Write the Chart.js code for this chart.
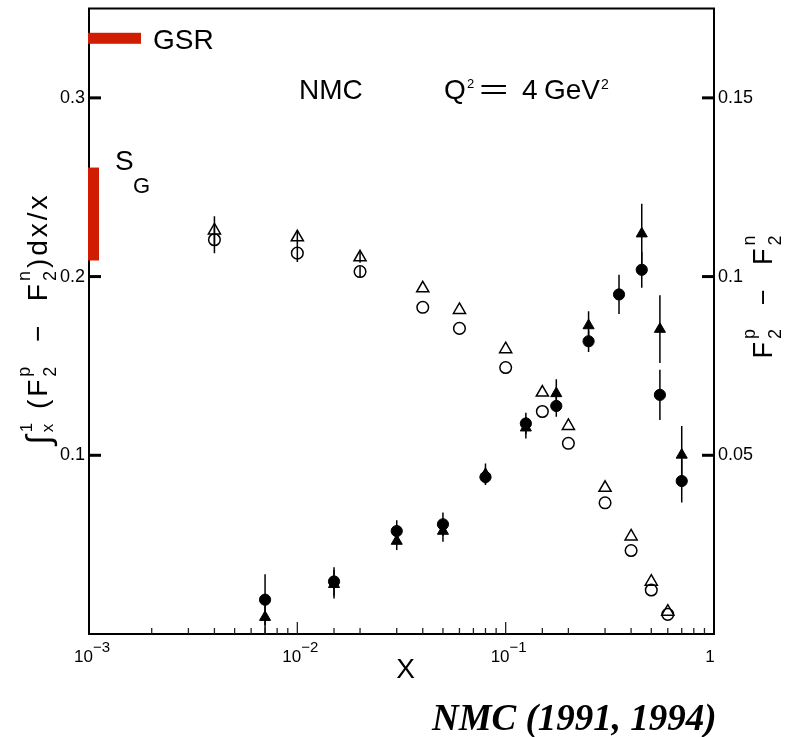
<!DOCTYPE html>
<html><head><meta charset="utf-8">
<script src="https://cdn.jsdelivr.net/npm/chart.js@4.4.0/dist/chart.umd.min.js"></script>
<style>html,body{margin:0;padding:0;background:#fff;}canvas{display:block;}</style>
</head><body>
<canvas id="c" width="791" height="737"></canvas>
<script>
// ---------- data ----------
const xOpen = [0.004, 0.01, 0.02, 0.04, 0.06, 0.1, 0.15, 0.2, 0.3, 0.4, 0.5, 0.6];
const intCircle = [0.2206, 0.2131, 0.2028, 0.1828, 0.1710, 0.1491, 0.1245, 0.1067, 0.0734, 0.0467, 0.0246, 0.0110];
const intCircleErr = [0.0075, 0.005, 0.003, 0, 0, 0, 0, 0, 0, 0, 0, 0];
const intTriangle = [0.2258, 0.2220, 0.2108, 0.1934, 0.1813, 0.1594, 0.1351, 0.1164, 0.0818, 0.0546, 0.0293, 0.0125];
const intTriangleErr = [0.008, 0.004, 0.003, 0, 0, 0, 0, 0, 0, 0, 0, 0];

const xFilled = [0.007, 0.015, 0.03, 0.05, 0.08, 0.125, 0.175, 0.25, 0.35, 0.45, 0.55, 0.7];
const diffCircle = [0.0096, 0.0147, 0.0288, 0.0307, 0.0439, 0.0589, 0.0638, 0.0819, 0.0950, 0.1019, 0.0669, 0.0428];
const diffCircleErr = [0.0071, 0.0040, 0.0030, 0.0033, 0.0020, 0.0030, 0.0030, 0.0030, 0.0055, 0.0050, 0.0070, 0.0060];
const diffTriangle = [0.0047, 0.0139, 0.0260, 0.0288, 0.0447, 0.0577, 0.0673, 0.0863, null, 0.1120, 0.0853, 0.0501];
const diffTriangleErr = [0.005, 0.004, 0.0025, 0.003, 0.003, 0.003, 0.004, 0.004, null, 0.0084, 0.0095, 0.0081];

const gsrValue = 1 / 3;          // Gottfried sum rule
const sgValue = 0.235;           // measured S_G
const sgErr = 0.026;

const leftTicks = [0.1, 0.2, 0.3];
const leftTickLabels = ['0.1', '0.2', '0.3'];
const rightTicks = [0.05, 0.1, 0.15];
const rightTickLabels = ['0.05', '0.1', '0.15'];
const xMajorTicks = [0.001, 0.01, 0.1, 1];
const xTickBase = ['10', '10', '10', '1'];
const xTickExp = ['\u22123', '\u22122', '\u22121', ''];

// ---------- helpers ----------
const FAM = '"Liberation Sans", Arial, sans-serif';
const zip = (xs, ys) => xs.map((x, i) => ({ x, y: ys[i] })).filter(p => p.y !== null);

function richMeasure(ctx, parts, gap) {
  let w = 0;
  for (const p of parts) {
    ctx.font = p.f + 'px ' + FAM;
    if (p.t !== undefined) {
      for (const ch of p.t) w += ctx.measureText(ch).width + gap;
    } else {
      w += Math.max(p.sub ? ctx.measureText(p.sub).width : 0, p.sup ? ctx.measureText(p.sup).width : 0) + gap;
    }
  }
  return w - gap;
}
function richDraw(ctx, parts, gap) {
  let cx = 0;
  for (const p of parts) {
    ctx.font = p.f + 'px ' + FAM;
    if (p.t !== undefined) {
      for (const ch of p.t) { ctx.fillText(ch, cx, p.dy || 0); cx += ctx.measureText(ch).width + gap; }
    } else {
      const w1 = p.sub ? ctx.measureText(p.sub).width : 0, w2 = p.sup ? ctx.measureText(p.sup).width : 0;
      if (p.sub) ctx.fillText(p.sub, cx, p.subDy);
      if (p.sup) ctx.fillText(p.sup, cx, p.supDy);
      cx += Math.max(w1, w2) + gap;
    }
  }
}

const leftTitle = [
  { t: '\u222B', f: 34, dy: 3 },
  { sub: 'x', sup: '1', f: 17, subDy: 6, supDy: -15 },
  { t: ' (F', f: 28 },
  { sub: '2', sup: 'p', f: 18, subDy: 9, supDy: -17 },
  { t: '  \u2212  F', f: 28 },
  { sub: '2', sup: 'n', f: 18, subDy: 9, supDy: -17 },
  { t: ')dx/x', f: 28 }
];
const rightTitle = [
  { t: 'F', f: 27 },
  { sub: '2', sup: 'p', f: 18, subDy: 9, supDy: -17 },
  { t: '  \u2212  F', f: 27 },
  { sub: '2', sup: 'n', f: 18, subDy: 9, supDy: -17 }
];

const errorSets = [
  { xs: xOpen, ys: intCircle, es: intCircleErr, axis: 'yL' },
  { xs: xOpen, ys: intTriangle, es: intTriangleErr, axis: 'yL' },
  { xs: xFilled, ys: diffCircle, es: diffCircleErr, axis: 'yR' },
  { xs: xFilled, ys: diffTriangle, es: diffTriangleErr, axis: 'yR' }
];

const decor = {
  id: 'decor',
  beforeDatasetsDraw(chart) {
    const { ctx, chartArea: a, scales } = chart;
    ctx.save();
    ctx.beginPath(); ctx.rect(a.left, a.top, a.right - a.left, a.bottom - a.top); ctx.clip();
    ctx.strokeStyle = '#000'; ctx.lineWidth = 1.5;
    for (const s of errorSets) {
      s.xs.forEach((x, i) => {
        if (s.ys[i] === null || !s.es[i]) return;
        const px = scales.x.getPixelForValue(x);
        ctx.beginPath();
        ctx.moveTo(px, scales[s.axis].getPixelForValue(s.ys[i] - s.es[i]));
        ctx.lineTo(px, scales[s.axis].getPixelForValue(s.ys[i] + s.es[i]));
        ctx.stroke();
      });
    }
    ctx.restore();
  },
  afterDraw(chart) {
    const { ctx, chartArea: a, scales } = chart;
    const xs = scales.x, yl = scales.yL, yr = scales.yR;
    ctx.save();
    ctx.fillStyle = '#000'; ctx.strokeStyle = '#000';
    // frame
    ctx.lineWidth = 2;
    ctx.strokeRect(a.left, a.top, a.right - a.left, a.bottom - a.top);
    // y ticks (inward)
    ctx.lineWidth = 3;
    yl.ticks.forEach(t => { const py = yl.getPixelForValue(t.value); ctx.beginPath(); ctx.moveTo(a.left, py); ctx.lineTo(a.left + 12, py); ctx.stroke(); });
    yr.ticks.forEach(t => { const py = yr.getPixelForValue(t.value); ctx.beginPath(); ctx.moveTo(a.right, py); ctx.lineTo(a.right - 12, py); ctx.stroke(); });
    // x ticks (inward)
    ctx.lineWidth = 1.3; ctx.strokeStyle = '#222';
    xs.ticks.forEach(t => {
      const lg = Math.log10(t.value);
      const major = Math.abs(lg - Math.round(lg)) < 1e-6;
      if (t.value <= xs.min * 1.0001 || t.value >= xs.max * 0.9999) return;
      const px = xs.getPixelForValue(t.value);
      ctx.beginPath(); ctx.moveTo(px, a.bottom); ctx.lineTo(px, a.bottom - (major ? 12 : 6)); ctx.stroke();
    });
    // x tick labels with exponent
    ctx.fillStyle = '#000'; ctx.textBaseline = 'alphabetic'; ctx.textAlign = 'left';
    xMajorTicks.forEach((v, i) => {
      const px = xs.getPixelForValue(v);
      ctx.font = '17px ' + FAM;
      const wb = ctx.measureText(xTickBase[i]).width;
      ctx.font = '15px ' + FAM;
      const we = xTickExp[i] ? ctx.measureText(xTickExp[i]).width : 0;
      const cx = px + (xTickExp[i] ? 3 : -4) - (wb + we) / 2;
      ctx.font = '17px ' + FAM; ctx.fillText(xTickBase[i], cx, 662);
      if (xTickExp[i]) { ctx.font = '15px ' + FAM; ctx.fillText(xTickExp[i], cx + wb, 652); }
    });
    // axis titles
    ctx.font = '28px ' + FAM; ctx.textAlign = 'center';
    ctx.fillText('X', (a.left + a.right) / 2 + 4, 678);
    ctx.textAlign = 'left';
    let w = richMeasure(ctx, leftTitle, 3);
    ctx.save(); ctx.translate(47, 320 + w / 2); ctx.rotate(-Math.PI / 2); richDraw(ctx, leftTitle, 3); ctx.restore();
    w = richMeasure(ctx, rightTitle, 3);
    ctx.save(); ctx.translate(772, 297 + w / 2); ctx.rotate(-Math.PI / 2); richDraw(ctx, rightTitle, 3); ctx.restore();
    // GSR and S_G bars
    ctx.fillStyle = '#d01c00';
    const gy = yl.getPixelForValue(gsrValue);
    ctx.fillRect(a.left - 1, gy - 5.5, 53, 11);
    const s1 = yl.getPixelForValue(sgValue + sgErr), s2 = yl.getPixelForValue(sgValue - sgErr);
    ctx.fillRect(a.left - 1, s1, 11, s2 - s1);
    // labels
    ctx.fillStyle = '#000';
    ctx.font = '28px ' + FAM; ctx.fillText('GSR', 153, 49);
    ctx.fillText('S', 115, 170);
    ctx.font = '22px ' + FAM; ctx.fillText('G', 133, 193);
    ctx.font = '28px ' + FAM; ctx.fillText('NMC', 299, 99);
    ctx.fillText('Q', 444, 99);
    ctx.font = '13px ' + FAM; ctx.fillText('2', 467, 88);
    ctx.save(); ctx.translate(479, 99); ctx.scale(1.8, 1); ctx.font = '28px ' + FAM; ctx.fillText('=', 0, 0); ctx.restore();
    ctx.font = '28px ' + FAM; ctx.fillText('4', 522, 99); ctx.fillText('GeV', 544, 99);
    ctx.font = '14px ' + FAM; ctx.fillText('2', 601, 89);
    ctx.font = 'italic bold 37px "Liberation Serif", "Times New Roman", serif';
    ctx.fillText('NMC (1991, 1994)', 432, 730);
    ctx.restore();
  }
};

const tickFont = { family: 'Liberation Sans', size: 18 };
new Chart(document.getElementById('c'), {
  type: 'scatter',
  data: {
    datasets: [
      { data: zip(xFilled, diffCircle), yAxisID: 'yR', pointStyle: 'circle', pointRadius: 5.6, borderColor: '#000', backgroundColor: '#000', borderWidth: 1 },
      { data: zip(xFilled, diffTriangle), yAxisID: 'yR', pointStyle: 'triangle', pointRadius: 6.4, borderColor: '#000', backgroundColor: '#000', borderWidth: 1 },
      { data: zip(xOpen, intCircle), yAxisID: 'yL', pointStyle: 'circle', pointRadius: 5.8, borderColor: '#000', backgroundColor: 'rgba(0,0,0,0)', borderWidth: 1.5 },
      { data: zip(xOpen, intTriangle), yAxisID: 'yL', pointStyle: 'triangle', pointRadius: 7, borderColor: '#000', backgroundColor: 'rgba(0,0,0,0)', borderWidth: 1.5 }
    ]
  },
  options: {
    responsive: false, animation: false, devicePixelRatio: 1,
    layout: { padding: { top: 8, left: 0, right: 0, bottom: 0 } },
    plugins: { legend: { display: false }, tooltip: { enabled: false } },
    elements: { point: { hoverRadius: 6 } },
    scales: {
      x: {
        type: 'logarithmic', position: 'bottom', min: 0.001, max: 1,
        ticks: { display: false }, grid: { display: false, drawTicks: false }, border: { display: false },
        afterFit: s => { s.height = 103; s.paddingLeft = 0; s.paddingRight = 0; }
      },
      yL: {
        type: 'linear', position: 'left', min: 0, max: 0.35,
        afterBuildTicks: s => { s.ticks = leftTicks.map(v => ({ value: v })); },
        afterFit: s => { s.width = 89; s.paddingTop = 0; s.paddingBottom = 0; },
        ticks: { autoSkip: false, padding: 4, color: '#000', font: tickFont, callback: (v, i) => leftTickLabels[i] },
        grid: { display: false, drawTicks: false }, border: { display: false }
      },
      yR: {
        type: 'linear', position: 'right', min: 0, max: 0.175,
        afterBuildTicks: s => { s.ticks = rightTicks.map(v => ({ value: v })); },
        afterFit: s => { s.width = 77; s.paddingTop = 0; s.paddingBottom = 0; },
        ticks: { autoSkip: false, padding: 4, color: '#000', font: tickFont, callback: (v, i) => rightTickLabels[i] },
        grid: { display: false, drawTicks: false }, border: { display: false }
      }
    }
  },
  plugins: [decor]
});
</script>
</body></html>
